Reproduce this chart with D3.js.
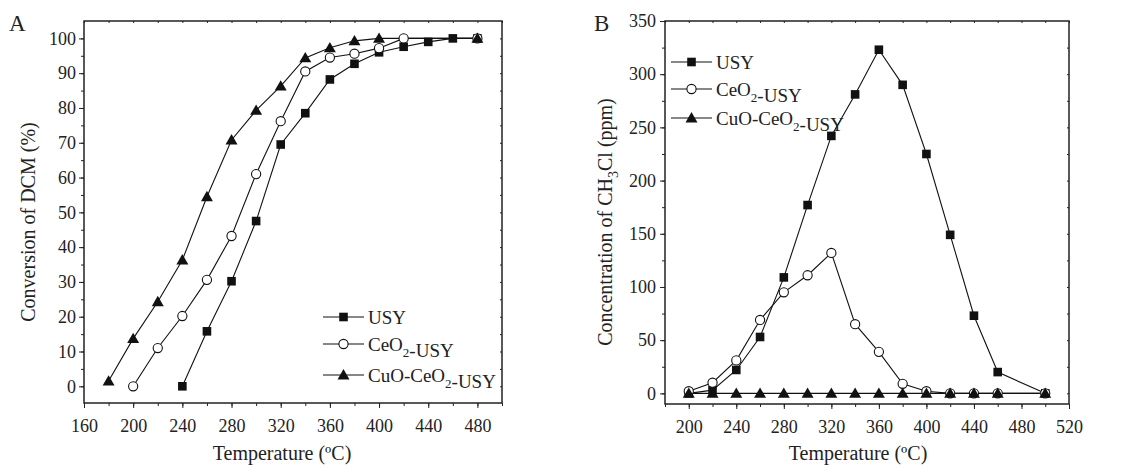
<!DOCTYPE html>
<html lang="en">
<head>
    <meta charset="UTF-8">
    <title>DCM conversion and CH3Cl concentration</title>
    <script src="https://d3js.org/d3.v7.min.js"></script>
    <style>
        body {
            margin: 0;
            padding: 0;
            background: #fff;
        }
        svg text {
            font-family: "Liberation Serif", "Times New Roman", serif;
            fill: #222;
        }
        svg .tick-label { font-size: 18px; }
        svg .axis-title { font-size: 20px; }
        svg .legend-text { font-size: 19px; }
        svg .panel-letter { font-size: 23px; }
    </style>
</head>
<body>
    <svg width="1137" height="466"></svg>
    <script>
        // Panel A: conversion of DCM (%)
        const tempA_usy = [240, 260, 280, 300, 320, 340, 360, 380, 400, 420, 440, 460, 480];
        const convA_usy = [0, 15.8, 30.2, 47.5, 69.5, 78.5, 88.2, 92.7, 96, 97.6, 99, 100, 100];
        const tempA_ceo2 = [200, 220, 240, 260, 280, 300, 320, 340, 360, 380, 400, 420, 480];
        const convA_ceo2 = [0, 11, 20.2, 30.6, 43.2, 61, 76.2, 90.5, 94.5, 95.6, 97.2, 100, 100];
        const tempA_cuo = [180, 200, 220, 240, 260, 280, 300, 320, 340, 360, 380, 400, 480];
        const convA_cuo = [1.5, 13.7, 24.3, 36.3, 54.5, 70.8, 79.3, 86.3, 94.4, 97.3, 99.3, 100, 100];

        // Panel B: concentration of CH3Cl (ppm)
        const tempB = [200, 220, 240, 260, 280, 300, 320, 340, 360, 380, 400, 420, 440, 460, 500];
        const concB_usy = [0, 3, 22, 53, 109, 177, 242, 281, 323, 290, 225, 149, 73, 20, 0];
        const concB_ceo2 = [2, 10, 31, 69, 95, 111, 132, 65, 39, 9, 2, 0, 0, 0, 0];
        const concB_cuo = [0, 0, 0, 0, 0, 0, 0, 0, 0, 0, 0, 0, 0, 0, 0];

        const seriesNames = ["USY", "CeO2-USY", "CuO-CeO2-USY"];
        const markerTypes = ["square", "circle", "triangle"];

        const xTicksA = [160, 200, 240, 280, 320, 360, 400, 440, 480];
        const yTicksA = [0, 10, 20, 30, 40, 50, 60, 70, 80, 90, 100];
        const xTicksB = [200, 240, 280, 320, 360, 400, 440, 480, 520];
        const yTicksB = [0, 50, 100, 150, 200, 250, 300, 350];

        const svg = d3.select("svg");

        function drawMarker(g, type, x, y) {
            if (type === "square") {
                g.append("rect")
                    .attr("x", x - 4.3).attr("y", y - 4.3)
                    .attr("width", 8.6).attr("height", 8.6)
                    .attr("fill", "#111");
            } else if (type === "circle") {
                g.append("circle")
                    .attr("cx", x).attr("cy", y).attr("r", 4.6)
                    .attr("fill", "#fff").attr("stroke", "#111").attr("stroke-width", 1.1);
            } else {
                g.append("path")
                    .attr("d", d3.symbol().type(d3.symbolTriangle).size(62)())
                    .attr("transform", `translate(${x},${y + 1})`)
                    .attr("fill", "#111");
            }
        }

        // legend names with subscripted 2
        function legendLabel(text, name) {
            const parts = name.split("2");
            parts.forEach((p, i) => {
                text.append("tspan").text(p);
                if (i < parts.length - 1) {
                    text.append("tspan").attr("dy", 6).attr("font-size", 13).text("2");
                    text.append("tspan").attr("dy", -6).text("");
                }
            });
        }

        function panel(opt) {
            const g = svg.append("g");
            const x = d3.scaleLinear().domain(opt.xDomain).range([opt.left, opt.right]);
            const y = d3.scaleLinear().domain(opt.yDomain).range([opt.bottom, opt.top]);
            const xMinorTicks = d3.range(opt.xDomain[0], opt.xDomain[1] + 1, opt.xMinor);
            const yMinorTicks = d3.range(0, opt.yDomain[1], opt.yMinor);

            // bottom axis
            g.append("g")
                .attr("transform", `translate(0,${opt.bottom})`)
                .call(d3.axisBottom(x).tickValues(xMinorTicks).tickSize(3).tickFormat(""))
                .call(a => a.select(".domain").remove());
            g.append("g")
                .attr("transform", `translate(0,${opt.bottom})`)
                .call(d3.axisBottom(x).tickValues(opt.xTicks).tickSize(5).tickPadding(11).tickFormat(d3.format("d")))
                .call(a => a.select(".domain").remove())
                .call(a => a.selectAll("text").attr("class", "tick-label").attr("fill", "#222"));

            // left axis
            g.append("g")
                .attr("transform", `translate(${opt.left},0)`)
                .call(d3.axisLeft(y).tickValues(yMinorTicks).tickSize(3).tickFormat(""))
                .call(a => a.select(".domain").remove());
            g.append("g")
                .attr("transform", `translate(${opt.left},0)`)
                .call(d3.axisLeft(y).tickValues(opt.yTicks).tickSize(5).tickPadding(opt.yPad).tickFormat(d3.format("d")))
                .call(a => a.select(".domain").remove())
                .call(a => a.selectAll("text").attr("class", "tick-label").attr("fill", "#222"));

            // top / right small inward ticks
            g.append("g")
                .attr("transform", `translate(0,${opt.top})`)
                .call(d3.axisBottom(x).tickValues(xMinorTicks).tickSize(2).tickFormat(""))
                .call(a => a.select(".domain").remove());
            g.append("g")
                .attr("transform", `translate(${opt.right},0)`)
                .call(d3.axisRight(y).tickValues(yMinorTicks).tickSize(-2).tickFormat(""))
                .call(a => a.select(".domain").remove());
            g.selectAll(".tick line").attr("stroke", "#222");

            // frame
            g.append("rect")
                .attr("x", opt.left).attr("y", opt.top)
                .attr("width", opt.right - opt.left).attr("height", opt.bottom - opt.top)
                .attr("fill", "none").attr("stroke", "#222").attr("stroke-width", 1.5);

            // series
            opt.series.forEach(s => {
                const pts = s.xs.map((t, j) => [x(t), y(s.ys[j])]);
                g.append("path")
                    .attr("d", d3.line()(pts))
                    .attr("fill", "none").attr("stroke", "#111").attr("stroke-width", 1.1);
            });
            opt.series.forEach((s, i) => {
                s.xs.forEach((t, j) => drawMarker(g, markerTypes[i], x(t), y(s.ys[j])));
            });

            // legend
            seriesNames.forEach((name, i) => {
                const ly = opt.legendY[i];
                g.append("line")
                    .attr("x1", opt.legendX).attr("x2", opt.legendX + 41)
                    .attr("y1", ly).attr("y2", ly)
                    .attr("stroke", "#111").attr("stroke-width", 1.1);
                drawMarker(g, markerTypes[i], opt.legendX + 20.5, ly);
                const t = g.append("text")
                    .attr("class", "legend-text")
                    .attr("x", opt.legendX + 45).attr("y", ly + 6.5);
                legendLabel(t, name);
            });

            // axis titles
            g.append("text")
                .attr("class", "axis-title")
                .attr("x", opt.xTitleX).attr("y", 460)
                .attr("text-anchor", "middle")
                .text("Temperature (ºC)");
            const yt = g.append("text")
                .attr("class", "axis-title")
                .attr("transform", `translate(${opt.yTitleX},222) rotate(-90)`)
                .attr("text-anchor", "middle");
            opt.yTitle(yt);

            g.append("text")
                .attr("class", "panel-letter")
                .attr("x", opt.letterX).attr("y", 31)
                .text(opt.letter);
        }

        panel({
            left: 84, right: 502, top: 21, bottom: 403,
            xDomain: [160, 500], yDomain: [-4.8, 105],
            xTicks: xTicksA, yTicks: yTicksA, xMinor: 20, yMinor: 5, yPad: 3,
            series: [
                { xs: tempA_usy, ys: convA_usy },
                { xs: tempA_ceo2, ys: convA_ceo2 },
                { xs: tempA_cuo, ys: convA_cuo }
            ],
            legendX: 323, legendY: [317, 344, 375],
            xTitleX: 282, yTitleX: 35,
            yTitle: t => t.text("Conversion of DCM (%)"),
            letter: "A", letterX: 9
        });

        panel({
            left: 665, right: 1069, top: 21, bottom: 404,
            xDomain: [180, 520], yDomain: [-10, 350],
            xTicks: xTicksB, yTicks: yTicksB, xMinor: 20, yMinor: 25, yPad: 4,
            series: [
                { xs: tempB, ys: concB_usy },
                { xs: tempB, ys: concB_ceo2 },
                { xs: tempB, ys: concB_cuo }
            ],
            legendX: 671, legendY: [62, 89, 118],
            xTitleX: 858, yTitleX: 612,
            yTitle: t => {
                t.append("tspan").text("Concentration of CH");
                t.append("tspan").attr("dy", 6).attr("font-size", 14).text("3");
                t.append("tspan").attr("dy", -6).text("Cl (ppm)");
            },
            letter: "B", letterX: 594
        });
    </script>
</body>
</html>
